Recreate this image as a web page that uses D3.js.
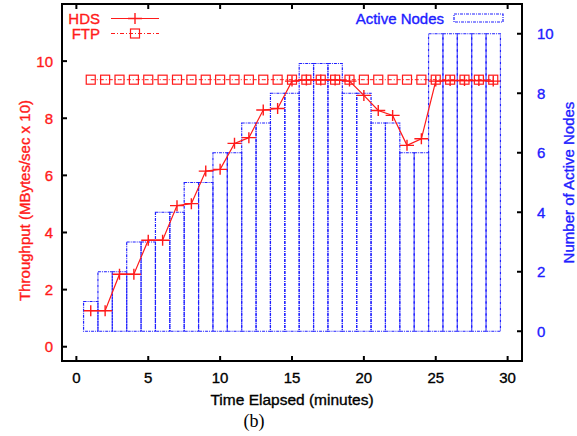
<!DOCTYPE html>
<html>
<head>
<meta charset="utf-8">
<script src="https://cdn.jsdelivr.net/npm/d3@7"></script>
<style>
  body { margin: 0; background: #fff; }
  svg text { font-family: "Liberation Sans", Arial, sans-serif; stroke-width: 0.35px; }
</style>
</head>
<body>
<svg id="chart" width="577" height="436"></svg>
<script>
// minutes elapsed
const minutes = [1,2,3,4,5,6,7,8,9,10,11,12,13,14,15,16,17,18,19,20,21,22,23,24,25,26,27,28,29]
// throughput, MBytes/sec x 10
const hds = [1.26,1.26,2.54,2.54,3.73,3.73,4.94,5.01,6.15,6.21,7.12,7.32,8.29,8.34,9.3,9.34,9.34,9.34,9.3,8.8,8.27,8.1,7.05,7.28,9.3,9.32,9.32,9.32,9.3]
const ftp = [9.35,9.35,9.35,9.35,9.35,9.35,9.35,9.35,9.35,9.35,9.35,9.35,9.35,9.35,9.35,9.35,9.35,9.35,9.35,9.35,9.35,9.35,9.35,9.35,9.35,9.35,9.35,9.35,9.35]
// number of active nodes
const nodes = [1,2,2,3,3,4,4,5,5,6,6,7,7,8,8,9,9,9,8,8,7,7,6,6,10,10,10,10,10]

const xTicks = [0,5,10,15,20,25,30]
const yTicks = [0,2,4,6,8,10]
const y2Ticks = [0,2,4,6,8,10]

const red = '#ff1a1a'
const blue = '#2020ff'
const dashDot = '3,1,1,1'

let svg = d3.select('#chart')

let plotL = 62, plotR = 522, plotT = 4, plotB = 361

let x = d3.scaleLinear().domain([-1, 31]).range([plotL, plotR])
let y = d3.scaleLinear().domain([-0.5, 12]).range([plotB, plotT])
let y2 = d3.scaleLinear().domain([-1, 11]).range([plotB, plotT])

// active node boxes
svg.append('g').selectAll('rect')
    .data(minutes)
    .join('rect')
    .attr('x', d => x(d - 0.5))
    .attr('y', (d, i) => y2(nodes[i]))
    .attr('width', d => x(d + 0.5) - x(d - 0.5))
    .attr('height', (d, i) => y2(0) - y2(nodes[i]))
    .style('fill', 'none')
    .style('stroke', blue)
    .style('stroke-width', 1.2)
    .style('stroke-dasharray', dashDot)

// FTP
let line = d3.line().x(d => x(d[0])).y(d => y(d[1]))
let ftpData = minutes.map((m, i) => [m, ftp[i]])
let hdsData = minutes.map((m, i) => [m, hds[i]])

svg.append('path')
    .attr('d', line(ftpData))
    .style('fill', 'none')
    .style('stroke', red)
    .style('stroke-width', 1)
    .style('stroke-dasharray', '4,2,1,2')

function square(g, cx, cy) {
    g.append('rect')
        .attr('x', cx - 4.5).attr('y', cy - 4.5)
        .attr('width', 9).attr('height', 9)
        .style('fill', 'none')
        .style('stroke', red)
        .style('stroke-width', 1.2)
}

function plus(g, cx, cy) {
    g.append('path')
        .attr('d', `M${cx - 7},${cy}H${cx + 7}M${cx},${cy - 5.5}V${cy + 5.5}`)
        .style('stroke', red)
        .style('stroke-width', 1.4)
}

let ftpG = svg.append('g')
ftpData.forEach(d => square(ftpG, x(d[0]), y(d[1])))

// HDS
svg.append('path')
    .attr('d', line(hdsData))
    .style('fill', 'none')
    .style('stroke', red)
    .style('stroke-width', 1.2)

let hdsG = svg.append('g')
hdsData.forEach(d => plus(hdsG, x(d[0]), y(d[1])))

// frame + ticks
svg.append('rect')
    .attr('x', plotL).attr('y', plotT)
    .attr('width', plotR - plotL).attr('height', plotB - plotT)
    .style('fill', 'none')
    .style('stroke', '#000')
    .style('stroke-width', 2)

let tickLen = 5

svg.append('g').selectAll('path')
    .data(xTicks)
    .join('path')
    .attr('d', d => `M${x(d)},${plotB}v${-tickLen}M${x(d)},${plotT}v${tickLen}`)
    .style('stroke', '#000')
    .style('stroke-width', 2)

svg.append('g').selectAll('path')
    .data(yTicks)
    .join('path')
    .attr('d', d => `M${plotL},${y(d)}h${tickLen}`)
    .style('stroke', '#000')
    .style('stroke-width', 2)

svg.append('g').selectAll('path')
    .data(y2Ticks)
    .join('path')
    .attr('d', d => `M${plotR},${y2(d)}h${-tickLen}`)
    .style('stroke', '#000')
    .style('stroke-width', 2)

// tick labels
svg.append('g').selectAll('text')
    .data(xTicks)
    .join('text')
    .attr('x', d => x(d))
    .attr('y', 383)
    .attr('text-anchor', 'middle')
    .style('font-size', '15px')
    .style('fill', '#000').style('stroke', '#000')
    .text(d => d)

svg.append('g').selectAll('text')
    .data(yTicks)
    .join('text')
    .attr('x', 53)
    .attr('y', d => y(d) + 5.5)
    .attr('text-anchor', 'end')
    .style('font-size', '15px')
    .style('fill', red).style('stroke', red)
    .text(d => d)

svg.append('g').selectAll('text')
    .data(y2Ticks)
    .join('text')
    .attr('x', 537)
    .attr('y', d => y2(d) + 5.5)
    .attr('text-anchor', 'start')
    .style('font-size', '15px')
    .style('fill', blue).style('stroke', blue)
    .text(d => d)

// axis titles
svg.append('text')
    .attr('transform', `translate(30,${(plotT + plotB) / 2 + 18}) rotate(-90)`)
    .attr('text-anchor', 'middle')
    .style('font-size', '15px')
    .style('fill', red).style('stroke', red)
    .text('Throughput (MBytes/sec x 10)')

svg.append('text')
    .attr('transform', `translate(574,${(plotT + plotB) / 2}) rotate(-90)`)
    .attr('text-anchor', 'middle')
    .style('font-size', '15px')
    .style('fill', blue).style('stroke', blue)
    .text('Number of Active Nodes')

svg.append('text')
    .attr('x', 292)
    .attr('y', 405)
    .attr('text-anchor', 'middle')
    .style('font-size', '15.5px')
    .style('fill', '#000').style('stroke', '#000')
    .text('Time Elapsed (minutes)')

svg.append('text')
    .attr('x', 254)
    .attr('y', 427)
    .attr('text-anchor', 'middle')
    .style('font-family', '"Liberation Serif", "Times New Roman", serif')
    .style('font-size', '18px')
    .style('fill', '#000')
    .style('stroke', 'none')
    .text('(b)')

// legend
let lg = svg.append('g')
lg.append('text').attr('x', 100).attr('y', 23.5).attr('text-anchor', 'end')
    .style('font-size', '15px').style('fill', red).style('stroke', red).text('HDS')
lg.append('path').attr('d', 'M111,18.5H159').style('stroke', red).style('stroke-width', 1.2)
plus(lg, 135, 18.5)

lg.append('text').attr('x', 100).attr('y', 39).attr('text-anchor', 'end')
    .style('font-size', '15px').style('fill', red).style('stroke', red).text('FTP')
lg.append('path').attr('d', 'M111,33.5H159').style('stroke', red).style('stroke-width', 1)
    .style('stroke-dasharray', '4,2,1,2')
square(lg, 135, 33.5)

lg.append('text').attr('x', 444).attr('y', 23.5).attr('text-anchor', 'end')
    .style('font-size', '15px').style('fill', blue).style('stroke', blue).text('Active Nodes')
lg.append('rect').attr('x', 454).attr('y', 14).attr('width', 49).attr('height', 8)
    .style('fill', 'none').style('stroke', blue).style('stroke-width', 1.2)
    .style('stroke-dasharray', dashDot)
</script>
</body>
</html>
